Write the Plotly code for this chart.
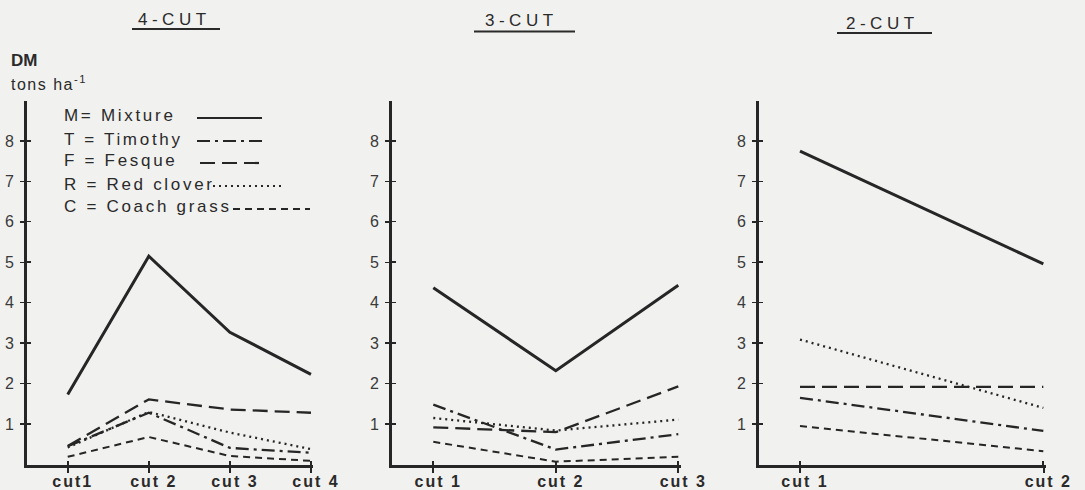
import plotly.graph_objects as go

W, H = 1085, 490

# ---------------- data ----------------
panel_titles = ["4-CUT", "3-CUT", "2-CUT"]
cuts_4 = [1, 2, 3, 4]
cuts_3 = [1, 2, 3]
cuts_2 = [1, 2]
ticks_4 = ["cut1", "cut 2", "cut 3", "cut 4"]
ticks_3 = ["cut 1", "cut 2", "cut 3"]
ticks_2 = ["cut 1", "cut 2"]

# 4-cut system (DM tons/ha)
mix_4 = [1.73, 5.15, 3.27, 2.23]
tim_4 = [0.45, 1.28, 0.41, 0.29]
fes_4 = [0.46, 1.61, 1.36, 1.28]
red_4 = [0.42, 1.30, 0.79, 0.38]
coa_4 = [0.19, 0.68, 0.21, 0.09]

# 3-cut system
mix_3 = [4.37, 2.32, 4.43]
tim_3 = [1.48, 0.37, 0.75]
fes_3 = [0.92, 0.80, 1.93]
red_3 = [1.15, 0.84, 1.11]
coa_3 = [0.56, 0.07, 0.19]

# 2-cut system
mix_2 = [7.75, 4.96]
tim_2 = [1.65, 0.83]
fes_2 = [1.92, 1.92]
red_2 = [3.09, 1.40]
coa_2 = [0.95, 0.33]

legend_labels = ["M= Mixture", "T = Timothy", "F = Fesque", "R = Red clover", "C = Coach grass"]
y_ticks = [1, 2, 3, 4, 5, 6, 7, 8]

# ---------------- styles ----------------
INK = "#262626"
TXT = "#2a2a2a"
BG = "#f1f1ef"
FONT = "Liberation Sans, Arial, sans-serif"
styles = {
    "mix": dict(color=INK, width=3.0, dash="solid"),
    "tim": dict(color=INK, width=2.3, dash="13px,5px,3px,5px"),
    "fes": dict(color=INK, width=2.3, dash="15px,7px"),
    "red": dict(color=INK, width=2.3, dash="2px,4px"),
    "coa": dict(color=INK, width=2.0, dash="7px,5px"),
}

def fx(px):
    return px / W

def fy(py):
    return 1 - py / H

fig = go.Figure()

panels = [
    (cuts_4, dict(mix=mix_4, tim=tim_4, fes=fes_4, red=red_4, coa=coa_4), "x", "y"),
    (cuts_3, dict(mix=mix_3, tim=tim_3, fes=fes_3, red=red_3, coa=coa_3), "x2", "y2"),
    (cuts_2, dict(mix=mix_2, tim=tim_2, fes=fes_2, red=red_2, coa=coa_2), "x3", "y3"),
]

for cuts, series, xa, ya in panels:
    for key in ["coa", "red", "tim", "fes", "mix"]:
        fig.add_trace(go.Scatter(
            x=cuts, y=series[key], mode="lines", line=styles[key],
            xaxis=xa, yaxis=ya, showlegend=False, hoverinfo="skip",
        ))

# geometry of the three panels (pixel positions of y-axis and x-axis end)
x_doms = [(27, 313), (392, 681), (759, 1046)]
x_ranges = [[0.498, 4.025], [0.663, 3.022], [0.8315, 2.011]]
y_dom = [fy(464.5), fy(100.5)]

layout = dict(
    width=W, height=H, autosize=False,
    margin=dict(l=0, r=0, t=0, b=0, pad=0),
    paper_bgcolor=BG, plot_bgcolor=BG,
    showlegend=False,
    font=dict(family=FONT, color=TXT),
)

tick_lists = [(cuts_4, ticks_4), (cuts_3, ticks_3), (cuts_2, ticks_2)]
for i in range(3):
    sx = "" if i == 0 else str(i + 1)
    tv, tt = tick_lists[i]
    layout["xaxis" + sx] = dict(
        domain=[fx(x_doms[i][0]), fx(x_doms[i][1])],
        range=x_ranges[i], anchor="y" + sx, automargin=False,
        showgrid=False, zeroline=False,
        showline=True, linecolor=INK, linewidth=3,
        ticks="inside", ticklen=4, tickwidth=2, tickcolor=INK,
        tickvals=tv,
        ticktext=['<span style="letter-spacing:2px">%s</span>' % t for t in tt],
        tickfont=dict(family=FONT, size=16, color=TXT, weight="bold"),
        ticklabelshift=5, ticklabelstandoff=0,
        minor=dict(ticks="outside", ticklen=5, tickwidth=2, tickcolor=INK,
                   tickvals=[v + 0.001 for v in tv], showgrid=False),
        fixedrange=True,
    )
    layout["yaxis" + sx] = dict(
        domain=y_dom, range=[0, 9], anchor="x" + sx, automargin=False,
        showgrid=False, zeroline=False,
        showline=True, linecolor=INK, linewidth=3,
        ticks="outside", ticklen=4, tickwidth=1.5, tickcolor=INK,
        tickvals=y_ticks,
        tickfont=dict(family=FONT, size=16, color="#3a3a3a"),
        ticklabelstandoff=3,
        minor=dict(ticks="inside", ticklen=4, tickwidth=1.5, tickcolor=INK,
                   tickvals=[v + 0.003 for v in y_ticks], showgrid=False),
        fixedrange=True,
    )

annotations = []
shapes = []
title_pos = [(172, 19, 132, 220, 29), (519, 21, 474, 575, 31.5), (880, 23, 837, 932, 33)]
for t, (cx, cy, ux0, ux1, uy) in zip(panel_titles, title_pos):
    annotations.append(dict(
        text='<span style="letter-spacing:4.5px">%s</span>' % t,
        x=fx(cx + 2), y=fy(cy), xref="paper", yref="paper",
        xanchor="center", yanchor="middle", showarrow=False,
        font=dict(family=FONT, size=17, color=TXT),
    ))
    shapes.append(dict(type="line", xref="paper", yref="paper",
                       x0=fx(ux0), x1=fx(ux1), y0=fy(uy), y1=fy(uy),
                       line=dict(color=TXT, width=2)))

annotations.append(dict(text="<b>DM</b>", x=fx(9), y=fy(60), xref="paper", yref="paper",
                        xanchor="left", yanchor="middle", showarrow=False,
                        font=dict(family=FONT, size=17, color=TXT)))
annotations.append(dict(text='<span style="letter-spacing:1.5px">tons ha<sup>-1</sup></span>',
                        x=fx(9), y=fy(83), xref="paper", yref="paper",
                        xanchor="left", yanchor="middle", showarrow=False,
                        font=dict(family=FONT, size=16, color=TXT)))

leg_y = [116, 139, 161, 184, 207]
leg_keys = ["mix", "tim", "fes", "red", "coa"]
leg_seg = [(197, 262), (197, 262), (200, 262), (213, 283), (233, 310)]
for lab, ly, key, (sx0, sx1) in zip(legend_labels, leg_y, leg_keys, leg_seg):
    annotations.append(dict(
        text='<span style="letter-spacing:2.7px">%s</span>' % lab,
        x=fx(62), y=fy(ly), xref="paper", yref="paper",
        xanchor="left", yanchor="middle", showarrow=False,
        font=dict(family=FONT, size=17, color=TXT),
    ))
    st = styles[key]
    shapes.append(dict(type="line", xref="paper", yref="paper",
                       x0=fx(sx0), x1=fx(sx1), y0=fy(ly + 2), y1=fy(ly + 2),
                       line=dict(color=st["color"], width=2.2, dash=st["dash"])))

layout["annotations"] = annotations
layout["shapes"] = shapes
fig.update_layout(**layout)

fig.write_html(
    "out.html",
    config={"displayModeBar": False, "staticPlot": True, "responsive": False},
    default_width="1085px", default_height="490px",
    post_script="document.body.style.margin='0';document.body.style.overflow='hidden';"
                "document.documentElement.style.overflow='hidden';",
)
